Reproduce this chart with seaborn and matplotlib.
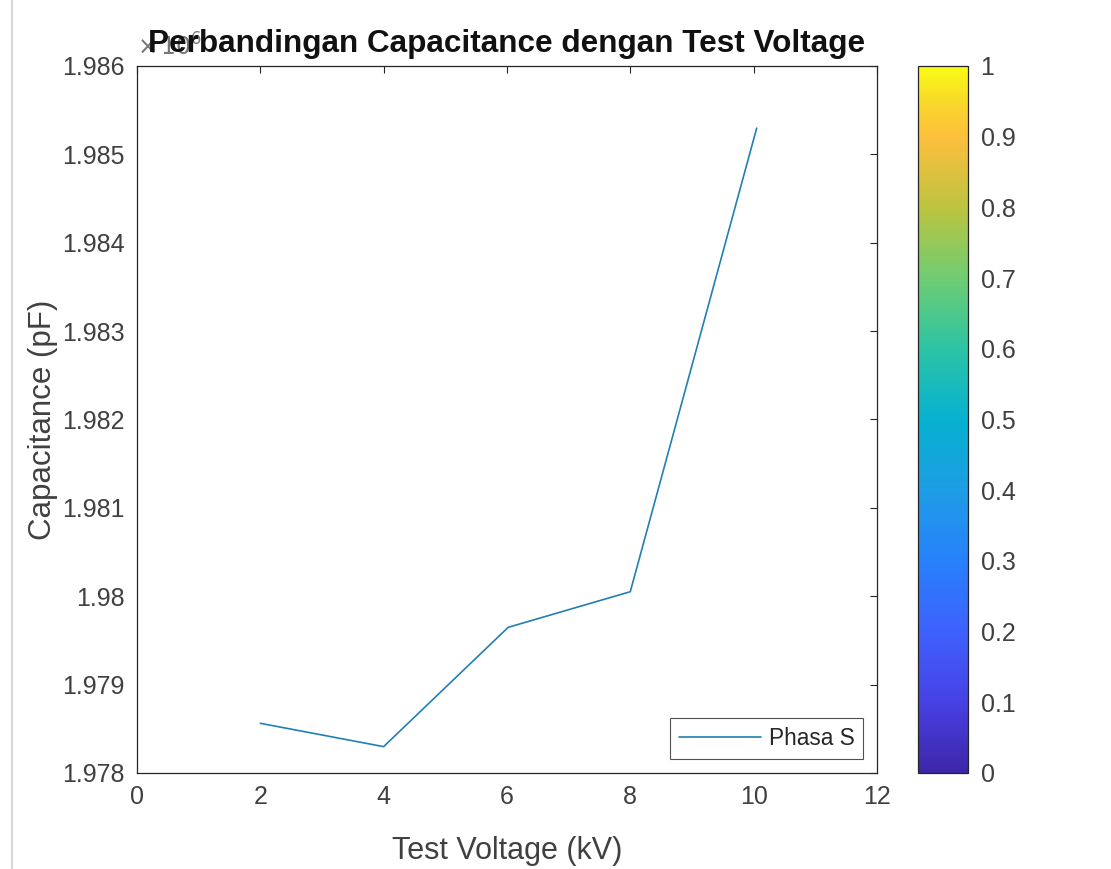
import numpy as np
import pandas as pd
import matplotlib
matplotlib.use("Agg")
import matplotlib.pyplot as plt
import seaborn as sns
from matplotlib.colors import LinearSegmentedColormap
from matplotlib.ticker import FuncFormatter
import matplotlib.colorbar as mcolorbar
import matplotlib.colors as mcolors

# ---- data ----
test_voltage = [2.0, 4.0, 6.02, 8.0, 10.05]
capacitance = [1.978562e6, 1.978298e6, 1.979648e6, 1.980051e6, 1.985296e6]
series_name = "Phasa S"
x_ticks = [0, 2, 4, 6, 8, 10, 12]
y_ticks = [1.978e6, 1.979e6, 1.980e6, 1.981e6, 1.982e6, 1.983e6, 1.984e6, 1.985e6, 1.986e6]
cbar_ticks = [0, 0.1, 0.2, 0.3, 0.4, 0.5, 0.6, 0.7, 0.8, 0.9, 1]

title = "Perbandingan Capacitance dengan Test Voltage"
xlabel = "Test Voltage (kV)"
ylabel = "Capacitance (pF)"

sns.set_style("white")
plt.rcParams['font.family'] = ['Liberation Sans', 'DejaVu Sans']

parula = LinearSegmentedColormap.from_list("parula", [
    (0.00, (0.2422, 0.1504, 0.6603)),
    (0.10, (0.2780, 0.2557, 0.8974)),
    (0.20, (0.2422, 0.3810, 0.9903)),
    (0.30, (0.1540, 0.5044, 0.9816)),
    (0.40, (0.1153, 0.6154, 0.8981)),
    (0.50, (0.0221, 0.6954, 0.8156)),
    (0.60, (0.1717, 0.7665, 0.6526)),
    (0.70, (0.4329, 0.8020, 0.4490)),
    (0.80, (0.7372, 0.7678, 0.2523)),
    (0.90, (0.9943, 0.7459, 0.2379)),
    (0.95, (0.9738, 0.8472, 0.1665)),
    (1.00, (0.9769, 0.9839, 0.0805)),
])

df = pd.DataFrame({"Test Voltage": test_voltage, "Capacitance": capacitance, "Series": series_name})

fig = plt.figure(figsize=(11.11, 8.69), dpi=100)
ax = fig.add_axes([0.1233, 0.1105, 0.666, 0.8136])
cax = fig.add_axes([0.8263, 0.1105, 0.045, 0.8136])

tick_col = "#404040"
sns.lineplot(data=df, x="Test Voltage", y="Capacitance", hue="Series",
             palette=["#2180b0"], linewidth=1.2, ax=ax)

ax.set_xlim(0, 12)
ax.set_ylim(1.978e6, 1.986e6)
ax.set_xticks(x_ticks)
ax.set_yticks(y_ticks)
ax.yaxis.set_major_formatter(FuncFormatter(lambda v, p: "%g" % round(v / 1e6, 6)))
ax.xaxis.set_major_formatter(FuncFormatter(lambda v, p: "%g" % v))
ax.tick_params(direction="in", length=5, width=0.8, colors="#262626",
               labelcolor=tick_col, labelsize=18, top=True, right=True, pad=9)
for s in ax.spines.values():
    s.set_color("#262626")
    s.set_linewidth(0.9)
ax.set_xlabel(xlabel, fontsize=22, color=tick_col, labelpad=19)
ax.set_ylabel(ylabel, fontsize=22.5, color=tick_col, labelpad=3)
ax.set_title(title, fontsize=22.7, fontweight="bold", color="#111111", pad=10)
ax.text(0.0, 1.008, r"$\times\,10^{6}$", transform=ax.transAxes, fontsize=17,
        color="#777777", ha="left", va="bottom", zorder=-1)

leg = ax.legend(loc="lower right", fontsize=16.3, frameon=True, fancybox=False,
                edgecolor="#262626", handlelength=3.6, borderaxespad=0.6,
                borderpad=0.4, handletextpad=0.35)
leg.get_frame().set_linewidth(0.8)
for t in leg.get_texts():
    t.set_color("#262626")

norm = mcolors.Normalize(0, 1)
cb = mcolorbar.ColorbarBase(cax, cmap=parula, norm=norm, ticks=cbar_ticks)
cb.ax.yaxis.set_major_formatter(FuncFormatter(lambda v, p: "%g" % round(v, 2)))
cb.ax.tick_params(direction="in", length=5, width=0.8, colors="#262626",
                  labelcolor=tick_col, labelsize=18, pad=9)
cb.outline.set_edgecolor("#262626")
cb.outline.set_linewidth(0.9)

fig.add_artist(plt.Line2D([0.0105, 0.0105], [0.0, 1.0], transform=fig.transFigure,
                          color="#d8d8d8", linewidth=1.5))

fig.savefig("out.png", dpi=100)
